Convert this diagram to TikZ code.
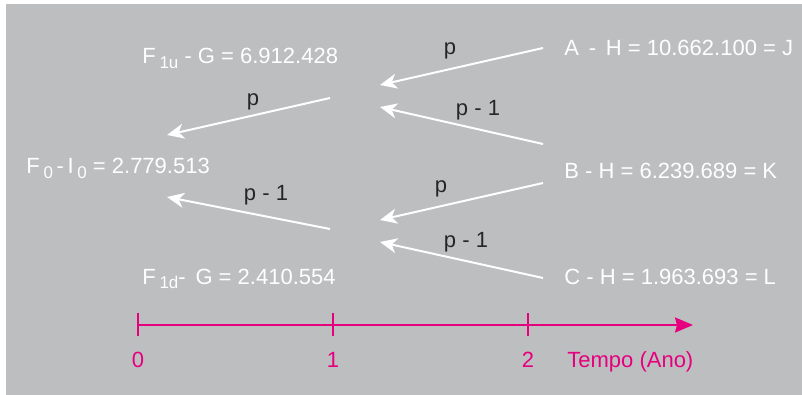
\documentclass[tikz,border=0pt]{standalone}
\usepackage{fontspec}
\setmainfont{Liberation Sans}
\usetikzlibrary{arrows.meta}
\definecolor{bggray}{HTML}{BDBEC0}
\definecolor{tmag}{HTML}{E6007E}
\newcommand{\sbs}[1]{\raisebox{-0.35ex}{\fontsize{8.5}{9}\selectfont #1}}
\begin{document}
\begin{tikzpicture}[x=0.5pt, y=-0.5pt,
    val/.style={anchor=base west, inner sep=0pt, text=white, font=\fontsize{11}{13}\selectfont},
    prob/.style={anchor=base, inner sep=0pt, text=black!85, font=\fontsize{11}{13}\selectfont},
    tlab/.style={anchor=base, inner sep=0pt, text=tmag, font=\fontsize{11}{13}\selectfont},
    branch/.style={-{Stealth[length=8.5pt, width=7.5pt, inset=2.5pt]}, white, line width=1pt}]
    \useasboundingbox (0,0) rectangle (802,395);
    \fill[bggray] (6,4) rectangle (802,395);

    % Nodes
    \node[val] (F0) at (26,174) {F\,\sbs{0}\,-\,I\,\sbs{0} = 2.779.513};
    \node[val] (F1u) at (142,64) {F\,\sbs{1u} - G = 6.912.428};
    \node[val] (F1d) at (142,284) {F\,\sbs{1d}-\, G = 2.410.554};
    \node[val] (A) at (564,56) {A\, - \,H = 10.662.100 = J};
    \node[val] (B) at (564,179) {B - H = 6.239.689 = K};
    \node[val] (C) at (564,284) {C - H = 1.963.693 = L};

    \coordinate (uS) at (330,98);   \coordinate (uT) at (167,135);
    \coordinate (dS) at (330,229);  \coordinate (dT) at (167,197);
    \coordinate (aS) at (543,48);   \coordinate (aT) at (380,85);
    \coordinate (bS) at (543,144);  \coordinate (bT) at (380,107);
    \coordinate (bS2) at (543,183); \coordinate (bT2) at (380,220);
    \coordinate (cS) at (543,278);  \coordinate (cT) at (380,242);

    % Edges
    \draw[branch] (uS) -- (uT);
    \draw[branch] (dS) -- (dT);
    \draw[branch] (aS) -- (aT);
    \draw[branch] (bS) -- (bT);
    \draw[branch] (bS2) -- (bT2);
    \draw[branch] (cS) -- (cT);

    \node[prob] (pu) at (253,106) {p};
    \node[prob] (qd) at (266,200) {p - 1};
    \node[prob] (pa) at (450,55) {p};
    \node[prob] (qb) at (478,116) {p - 1};
    \node[prob] (pb) at (441,192) {p};
    \node[prob] (qc) at (466,248) {p - 1};

    % Time axis
    \coordinate (t0) at (138,325);
    \coordinate (tEnd) at (693,325);
    \draw[tmag, line width=1pt, -{Stealth[length=9pt, width=7.5pt, inset=1pt]}] (t0) -- (tEnd);
    \foreach \x/\lab in {138/0, 333/1, 528/2} {
        \draw[tmag, line width=1pt] (\x,313) -- (\x,336);
        \node[tlab] (n\lab) at (\x,367) {\lab};
    }
    \node[tlab, anchor=base west] (tempo) at (567,367) {Tempo (Ano)};
\end{tikzpicture}
\end{document}
